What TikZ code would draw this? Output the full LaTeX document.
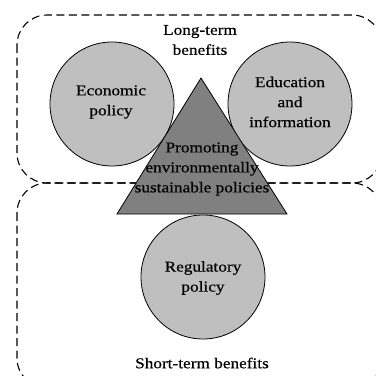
\documentclass[tikz,border=0pt]{standalone}
\usepackage{fontspec}
\setmainfont{Liberation Serif}[FakeStretch=1.15,FakeBold=0.5]
\begin{document}
\begin{tikzpicture}[x=1pt,y=-1pt,
  zone/.style={draw=black,line width=1.1pt,dash pattern=on 8pt off 4.5pt,rounded corners=30pt},
  policy/.style={circle,draw=black,line width=0.8pt,fill=black!25,minimum size=124pt,inner sep=0pt},
  core/.style={draw=black,line width=0.8pt,fill=black!50},
  lbl/.style={align=center,font=\fontsize{15}{20}\selectfont,inner sep=0pt}]
\useasboundingbox (0,0) rectangle (376,376);
% benefit zones
\draw[zone] (17,15) rectangle (382,183);
\draw[zone] (17,183) rectangle (382,388);
% policy instruments
\node[policy] (econ) at (112,104) {};
\node[policy] (edu) at (290,104) {};
\node[policy] (reg) at (203,277) {};
% central triangle
\coordinate (apex) at (201,78);
\coordinate (bl) at (117,214);
\coordinate (br) at (287,214);
\draw[core] (apex) -- (bl) -- (br) -- cycle;
% labels
\node[lbl] (lt) at (200,40) {Long-term\\benefits};
\node[lbl] (econl) at (111,102) {Economic\\policy};
\node[lbl] (edul) at (290,102) {Education\\and\\information};
\node[lbl] (corel) at (202,169) {Promoting\\environmentally\\sustainable policies};
\node[lbl] (regl) at (203,278) {Regulatory\\policy};
\node[lbl] (st) at (202,363) {Short-term benefits};
\end{tikzpicture}
\end{document}
